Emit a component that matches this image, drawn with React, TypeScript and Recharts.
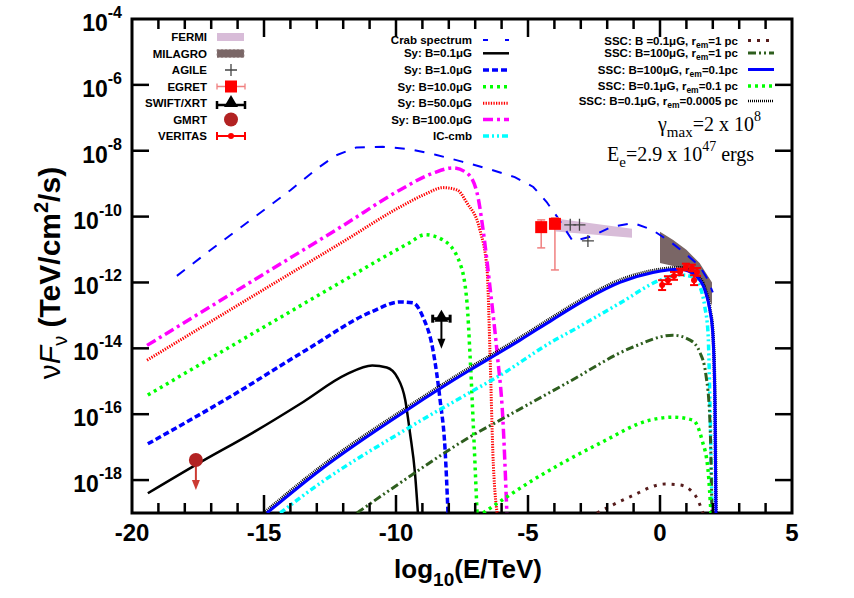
import React from "react";
import { ComposedChart, Line, Area, Scatter, XAxis, YAxis, ErrorBar, ReferenceArea } from "recharts";

const SANS = "'Liberation Sans', Arial, Helvetica, sans-serif";
const SERIF = "'Liberation Serif', 'Times New Roman', serif";
const PLOT_W = 660;
const PLOT_H = 494;

// axis ticks (log10 E / log10 flux)
const xTicks = [-20, -19, -18, -17, -16, -15, -14, -13, -12, -11, -10, -9, -8, -7, -6, -5, -4, -3, -2, -1, 0, 1, 2, 3, 4, 5];
const yTicks = [-18, -16, -14, -12, -10, -8, -6, -4];

// model curves, x = log10(E/TeV), y = log10(nuFnu)
const crabX = [-18.3, -17, -16, -15, -14, -13, -12.3, -11.5, -10.5, -9.5, -8.5, -7.5, -6.5, -5.5, -4.8, -4.3, -3.9, -3.3, -2.6, -1.8, -1.0, -0.3, 0.45, 1.0, 1.5, 1.8, 2.0];
const crabY = [-11.8, -11.0, -10.4, -9.8, -9.2, -8.55, -8.15, -7.9, -7.88, -7.95, -8.12, -8.33, -8.55, -8.8, -9.1, -9.55, -10.0, -10.75, -10.6, -10.3, -10.2, -10.4, -10.8, -11.15, -11.5, -11.9, -12.3];

const sy01X = [-19.4, -17.5, -15.4, -13.5, -11.9, -10.9, -10.35, -9.95, -9.65, -9.47, -9.28, -9.17];
const sy01Y = [-18.4, -17.5, -16.55, -15.62, -14.8, -14.52, -14.58, -14.88, -15.57, -16.57, -17.8, -19.0];

const sy1X = [-19.4, -16.3, -13.4, -10.9, -9.85, -9.35, -8.98, -8.6, -8.33, -8.14, -8.03];
const sy1Y = [-16.9, -15.48, -14.05, -12.88, -12.59, -12.62, -13.05, -14.05, -15.57, -17.09, -19.0];

const sy10X = [-19.4, -15, -12, -10.5, -9.5, -8.9, -8.22, -7.58, -7.31, -7.2, -7.08, -6.93];
const sy10Y = [-15.42, -13.35, -11.95, -11.25, -10.8, -10.55, -10.71, -11.41, -12.62, -14.14, -16.18, -19.0];

const sy50X = [-19.43, -15, -12, -9.85, -8.9, -8.22, -7.69, -7.31, -6.82, -6.55, -6.44, -6.33, -6.17];
const sy50Y = [-14.36, -12.21, -10.76, -9.71, -9.32, -9.12, -9.19, -9.59, -10.41, -11.62, -14.14, -17.18, -19.0];

const sy100X = [-19.43, -15, -12, -9.85, -8.6, -7.84, -7.31, -6.93, -6.7, -6.44, -6.17, -5.95, -5.8];
const sy100Y = [-13.91, -11.74, -10.27, -9.19, -8.68, -8.52, -8.68, -9.28, -10.41, -12.14, -14.14, -16.18, -19.0];

const icX = [-14.39, -12.88, -9.85, -7.2, -6.06, -4.05, -3.3, -1.5, 0.0, 0.76, 1.25, 1.52, 1.7, 1.82, 1.89, 1.97];
const icY = [-19.0, -18.1, -16.57, -15.34, -14.82, -13.78, -13.45, -12.62, -11.93, -11.77, -11.83, -12.14, -12.75, -13.54, -15.57, -19.0];

const sscBlueX = [-14.89, -12.88, -9.58, -7.2, -6.06, -5.3, -4.05, -2.77, -1.52, -0.27, 0.76, 1.4, 1.7, 1.89, 2.0, 2.08, 2.12];
const sscBlueY = [-19.0, -17.7, -15.87, -14.66, -14.12, -13.75, -13.12, -12.5, -12.0, -11.7, -11.6, -11.83, -12.23, -12.84, -13.54, -15.57, -19.0];

const sscBlackX = [-15.0, -12.88, -9.58, -7.2, -6.06, -5.3, -4.05, -2.77, -1.52, -0.27, 0.76, 1.4, 1.7, 1.89, 2.0, 2.08, 2.12];
const sscBlackY = [-19.0, -17.62, -15.8, -14.59, -14.05, -13.68, -13.05, -12.43, -11.93, -11.64, -11.55, -11.78, -12.18, -12.8, -13.5, -15.5, -19.0];

const sscDkGreenX = [-11.48, -9.85, -7.2, -6.06, -3.52, -1.02, 0.49, 1.14, 1.52, 1.74, 1.89, 1.97];
const sscDkGreenY = [-19.0, -18.09, -16.69, -16.18, -15.05, -13.96, -13.6, -13.75, -14.14, -14.81, -16.18, -19.0];

const sscGreenX = [-6.7, -4.81, -2.27, -0.38, 0.49, 1.25, 1.59, 1.82, 1.93];
const sscGreenY = [-19.0, -18.0, -16.88, -16.18, -16.09, -16.18, -16.78, -17.7, -19.0];

const sscBrownX = [-2.39, -1.14, 0.19, 0.76, 1.33, 1.63];
const sscBrownY = [-19.0, -18.51, -18.12, -18.15, -18.46, -19.0];

// data bands
const fermiX = [-3.95, -1.06];
const fermiLo = [-10.45, -10.64];
const fermiHi = [-10.06, -10.37];

const milagroX = [0, 0.5, 1.0, 1.5, 1.97];
const milagroLo = [-11.41, -11.5, -11.6, -11.9, -12.7];
const milagroHi = [-10.46, -10.71, -11.01, -11.41, -12.0];

// data points
const agileX = [-3.4, -3.05, -2.73];
const agileY = [-10.25, -10.25, -10.74];

const egretX = [-4.5, -3.98];
const egretY = [-10.32, -10.22];
const egretErrLo = [0.63, 1.4];
const egretErrHi = [0.22, 0.18];

const swiftX = [-8.28];
const swiftY = [-13.1];
const swiftXErr = [0.33];

const gmrtX = [-17.58];
const gmrtY = [-17.39];

const veritasX = [0.08, 0.3, 0.53, 0.76, 0.98, 1.21, 1.4, 1.29];
const veritasY = [-12.08, -11.93, -11.8, -11.68, -11.53, -11.56, -11.68, -11.93];
const veritasErr = [0.15, 0.12, 0.12, 0.1, 0.1, 0.1, 0.12, 0.15];

const pts = (xs: number[], ys: number[]) => xs.map((x, i) => ({ x, y: ys[i] }));
const band = (xs: number[], lo: number[], hi: number[]) => xs.map((x, i) => ({ x, band: [lo[i], hi[i]] }));

const BLUE = "#0000ff";
const GREEN = "#00ff00";
const DKGREEN = "#2e5e1e";
const BROWN = "#561c1c";
const FERMI = "#d8bcd8";
const MILAGRO = "#7a6666";

const curve = (key: string, xs: number[], ys: number[], stroke: string, width: number, dash?: string, type: any = "monotone") => (
  <Line
    key={key}
    data={pts(xs, ys)}
    dataKey="y"
    type={type}
    stroke={stroke}
    strokeWidth={width}
    strokeDasharray={dash}
    dot={false}
    activeDot={false}
    isAnimationActive={false}
  />
);

const XTick = (props: any) => {
  const { x, y, payload } = props;
  const v = payload.value;
  const major = v % 5 === 0;
  const len = major ? 18 : 10;
  const inner = v > -20 && v < 5;
  return (
    <g>
      {inner && <line x1={x} y1={y} x2={x} y2={y - len} stroke="#000" strokeWidth={2.5} />}
      {inner && <line x1={x} y1={y - PLOT_H} x2={x} y2={y - PLOT_H + len} stroke="#000" strokeWidth={2.5} />}
      {major && (
        <text x={x} y={y + 28} textAnchor="middle" fontFamily={SANS} fontWeight="bold" fontSize={24} fill="#000">
          {v}
        </text>
      )}
    </g>
  );
};

const YTick = (props: any) => {
  const { x, y, payload } = props;
  const v = payload.value;
  const inner = v > -19 && v < -4;
  return (
    <g>
      {inner && <line x1={x} y1={y} x2={x + 17} y2={y} stroke="#000" strokeWidth={2.5} />}
      {inner && <line x1={x + PLOT_W - 17} y1={y} x2={x + PLOT_W} y2={y} stroke="#000" strokeWidth={2.5} />}
      <text x={x - 10} y={y + 12} textAnchor="end" fontFamily={SANS} fontWeight="bold" fontSize={23} fill="#000">
        10
        <tspan dy={-13} fontSize={16}>{v}</tspan>
      </text>
    </g>
  );
};

const EgretShape = (p: any) => <rect x={p.cx - 6} y={p.cy - 6} width={12} height={12} fill="#ff0000" />;
const AgileShape = (p: any) => (
  <path d={`M${p.cx - 6},${p.cy}H${p.cx + 6}M${p.cx},${p.cy - 6}V${p.cy + 6}`} stroke="#444" strokeWidth={1.3} fill="none" />
);
const SwiftShape = (p: any) => (
  <g>
    <line x1={p.cx} y1={p.cy} x2={p.cx} y2={p.cy + 22} stroke="#000" strokeWidth={2} />
    <path d={`M${p.cx - 4},${p.cy + 20}L${p.cx + 4},${p.cy + 20}L${p.cx},${p.cy + 30}Z`} fill="#000" />
    <path d={`M${p.cx},${p.cy - 9}L${p.cx + 7},${p.cy + 3}L${p.cx - 7},${p.cy + 3}Z`} fill="#000" />
  </g>
);
const GmrtShape = (p: any) => (
  <g>
    <line x1={p.cx} y1={p.cy} x2={p.cx} y2={p.cy + 22} stroke="#cc3b33" strokeWidth={2} />
    <path d={`M${p.cx - 4},${p.cy + 20}L${p.cx + 4},${p.cy + 20}L${p.cx},${p.cy + 30}Z`} fill="#cc3b33" />
    <circle cx={p.cx} cy={p.cy} r={7} fill="#b22222" />
  </g>
);
const VeritasShape = (p: any) => <circle cx={p.cx} cy={p.cy} r={3} fill="#ff0000" />;

const leftRows = ["FERMI", "MILAGRO", "AGILE", "EGRET", "SWIFT/XRT", "GMRT", "VERITAS"];
const leftRowY = [37, 53.5, 70, 86.5, 103, 119.5, 136];

const LegendOverlay = () => {
  const lx = 231;
  const glyph = (i: number, y: number) => {
    switch (i) {
      case 0:
        return <rect x={217} y={y - 4} width={27} height={8} fill={FERMI} />;
      case 1:
        return <rect x={217} y={y - 4} width={27} height={8} fill={MILAGRO} stroke="#9a8888" strokeDasharray="2 2" strokeWidth={0.8} />;
      case 2:
        return <path d={`M${lx - 6},${y}H${lx + 6}M${lx},${y - 6}V${y + 6}`} stroke="#444" strokeWidth={1.3} />;
      case 3:
        return (
          <g stroke="#f08080" strokeWidth={1.3}>
            <path d={`M217,${y}H245M217,${y - 3}V${y + 3}M245,${y - 3}V${y + 3}`} />
            <rect x={lx - 6} y={y - 6} width={12} height={12} fill="#ff0000" stroke="none" />
          </g>
        );
      case 4:
        return (
          <g>
            <path d={`M217,${y + 2}H245M217,${y - 2}V${y + 6}M245,${y - 2}V${y + 6}`} stroke="#000" strokeWidth={2.5} />
            <path d={`M${lx},${y - 8}L${lx + 7},${y + 4}L${lx - 7},${y + 4}Z`} fill="#000" />
          </g>
        );
      case 5:
        return <circle cx={lx} cy={y} r={7} fill="#b22222" />;
      default:
        return (
          <g stroke="#ff0000" strokeWidth={2}>
            <path d={`M217,${y}H245M217,${y - 4}V${y + 4}M245,${y - 4}V${y + 4}`} />
            <circle cx={lx} cy={y} r={3} fill="#ff0000" stroke="none" />
          </g>
        );
    }
  };
  const mid = [
    { t: "Crab spectrum", y: 40, stroke: BLUE, w: 2, dash: "5 17" },
    { t: "Sy: B=0.1\u03bcG", y: 53.3, stroke: "#000", w: 2.5 },
    { t: "Sy: B=1.0\u03bcG", y: 70, stroke: BLUE, w: 3.5, dash: "6 3" },
    { t: "Sy: B=10.0\u03bcG", y: 86.7, stroke: GREEN, w: 3.5, dash: "3 4" },
    { t: "Sy: B=50.0\u03bcG", y: 103.3, stroke: "#ff0000", w: 3, dash: "1.3 1.3" },
    { t: "Sy: B=100.0\u03bcG", y: 119.5, stroke: "#ff00ff", w: 3.5, dash: "10 4 3 4" },
    { t: "IC-cmb", y: 136, stroke: "#00ffff", w: 3.5, dash: "6 3 2 3 2 3" },
  ];
  const right = [
    { b: "SSC: B =0.1\u03bcG, r", r: "=1 pc", y: 40.5, stroke: BROWN, w: 3, dash: "3 6" },
    { b: "SSC: B=100\u03bcG, r", r: "=1 pc", y: 53, stroke: DKGREEN, w: 3, dash: "8 3 2 3 2 3" },
    { b: "SSC: B=100\u03bcG, r", r: "=0.1pc", y: 69.5, stroke: BLUE, w: 3 },
    { b: "SSC: B=0.1\u03bcG, r", r: "=0.1 pc", y: 86, stroke: GREEN, w: 3.5, dash: "3 4" },
    { b: "SSC: B=0.1\u03bcG, r", r: "=0.0005 pc", y: 101, stroke: "#000", w: 2.5, dash: "1 1" },
  ];
  return (
    <svg width={854} height={598} style={{ position: "absolute", left: 0, top: 0, pointerEvents: "none" }}>
      <g fontFamily={SANS} fontWeight="bold" fontSize={11.5} fill="#000">
        {leftRows.map((t, i) => (
          <g key={t}>
            <text x={207} y={leftRowY[i] + 4} textAnchor="end">{t}</text>
            {glyph(i, leftRowY[i])}
          </g>
        ))}
        {mid.map((m) => (
          <g key={m.t}>
            <text x={472} y={m.y + 4} textAnchor="end">{m.t}</text>
            <line x1={483} y1={m.y} x2={509} y2={m.y} stroke={m.stroke} strokeWidth={m.w} strokeDasharray={m.dash} />
          </g>
        ))}
      </g>
      <g fontFamily={SANS} fontWeight="bold" fontSize={11.5} fill="#000">
        {right.map((r) => (
          <g key={r.b + r.r}>
            <text x={738} y={r.y + 4} textAnchor="end">
              {r.b}
              <tspan dy={3} fontSize={8.5}>em</tspan>
              <tspan dy={-3}>{r.r}</tspan>
            </text>
            <line x1={748} y1={r.y} x2={774} y2={r.y} stroke={r.stroke} strokeWidth={r.w} strokeDasharray={r.dash} />
          </g>
        ))}
      </g>
      <text x={658} y={131} fontFamily={SERIF} fontSize={20} fill="#000">
        {"\u03b3"}
        <tspan dy={6} fontSize={15}>max</tspan>
        <tspan dy={-6}>=2 x 10</tspan>
        <tspan dy={-10} fontSize={14}>8</tspan>
      </text>
      <text x={607} y={161} fontFamily={SERIF} fontSize={20} fill="#000">
        E
        <tspan dy={6} fontSize={15}>e</tspan>
        <tspan dy={-6}>=2.9 x 10</tspan>
        <tspan dy={-10} fontSize={14}>47</tspan>
        <tspan dy={10}> ergs</tspan>
      </text>
      <text x={468} y={578} textAnchor="middle" fontFamily={SANS} fontWeight="bold" fontSize={26} fill="#000">
        log
        <tspan dy={8} fontSize={19}>10</tspan>
        <tspan dy={-8}>(E/TeV)</tspan>
      </text>
      <text transform="translate(60,273) rotate(-90)" textAnchor="middle" fontFamily={SANS} fontSize={30} fill="#000">
        <tspan>{"\u03bd"}</tspan>
        <tspan fontStyle="italic">F</tspan>
        <tspan dy={7} fontSize={20}>{"\u03bd"}</tspan>
        <tspan dy={-7} fontWeight="bold"> (TeV/cm</tspan>
        <tspan dy={-12} fontSize={20} fontWeight="bold">2</tspan>
        <tspan dy={12} fontWeight="bold">/s)</tspan>
      </text>
    </svg>
  );
};

export default function App() {
  return (
    <div style={{ position: "relative", width: 854, height: 598, background: "#fff" }}>
      <style>{"body{margin:0}"}</style>
      <ComposedChart width={854} height={598} margin={{ top: 19, right: 62, left: 0, bottom: 0 }}>
        <XAxis
          dataKey="x"
          type="number"
          domain={[-20, 5]}
          ticks={xTicks}
          interval={0}
          allowDataOverflow
          height={85}
          tickSize={0}
          tickMargin={0}
          axisLine={false}
          tickLine={false}
          tick={(p: any) => <XTick {...p} />}
        />
        <YAxis
          dataKey="y"
          type="number"
          domain={[-19, -4]}
          ticks={yTicks}
          interval={0}
          allowDataOverflow
          width={132}
          tickSize={0}
          tickMargin={0}
          axisLine={false}
          tickLine={false}
          tick={(p: any) => <YTick {...p} />}
        />
        <Area data={band(milagroX, milagroLo, milagroHi)} dataKey="band" type="linear" stroke="none" fill={MILAGRO} fillOpacity={1} dot={false} activeDot={false} isAnimationActive={false} />
        <Area data={band(fermiX, fermiLo, fermiHi)} dataKey="band" type="linear" stroke="none" fill={FERMI} fillOpacity={1} dot={false} activeDot={false} isAnimationActive={false} />
        {curve("crab", crabX, crabY, BLUE, 2, "10 10", "linear")}
        {curve("sy01", sy01X, sy01Y, "#000", 2.5)}
        {curve("sy1", sy1X, sy1Y, BLUE, 3.5, "6 3")}
        {curve("sy10", sy10X, sy10Y, GREEN, 3.5, "3 4")}
        {curve("sy50", sy50X, sy50Y, "#ff0000", 3, "1.3 1.3")}
        {curve("sy100", sy100X, sy100Y, "#ff00ff", 3.5, "10 4 3 4")}
        {curve("ic", icX, icY, "#00ffff", 3.5, "6 3 2 3 2 3")}
        {curve("sscBrown", sscBrownX, sscBrownY, BROWN, 3, "3 6")}
        {curve("sscDkGreen", sscDkGreenX, sscDkGreenY, DKGREEN, 3, "8 3 2 3 2 3")}
        {curve("sscGreen", sscGreenX, sscGreenY, GREEN, 3.5, "3 4")}
        {curve("sscBlack", sscBlackX, sscBlackY, "#000", 3.5, "1 1")}
        {curve("sscBlue", sscBlueX, sscBlueY, BLUE, 3)}
        <Scatter data={pts(egretX, egretY).map((d, i) => ({ ...d, err: [egretErrLo[i], egretErrHi[i]] }))} shape={EgretShape} isAnimationActive={false}>
          <ErrorBar dataKey="err" direction="y" stroke="#f08080" strokeWidth={1.5} width={4} />
        </Scatter>
        <Scatter data={pts(agileX, agileY)} shape={AgileShape} isAnimationActive={false} />
        <Scatter data={pts(swiftX, swiftY).map((d, i) => ({ ...d, xerr: swiftXErr[i] }))} shape={SwiftShape} isAnimationActive={false}>
          <ErrorBar dataKey="xerr" direction="x" stroke="#000" strokeWidth={3} width={4} />
        </Scatter>
        <Scatter data={pts(gmrtX, gmrtY)} shape={GmrtShape} isAnimationActive={false} />
        <Scatter data={pts(veritasX, veritasY).map((d, i) => ({ ...d, err: veritasErr[i] }))} shape={VeritasShape} isAnimationActive={false}>
          <ErrorBar dataKey="err" direction="y" stroke="#ff0000" strokeWidth={2} width={4} />
        </Scatter>
        <ReferenceArea x1={-20} x2={5} y1={-19} y2={-4} fill="none" fillOpacity={0} stroke="#000" strokeWidth={3} ifOverflow="visible" />
      </ComposedChart>
      <LegendOverlay />
    </div>
  );
}
